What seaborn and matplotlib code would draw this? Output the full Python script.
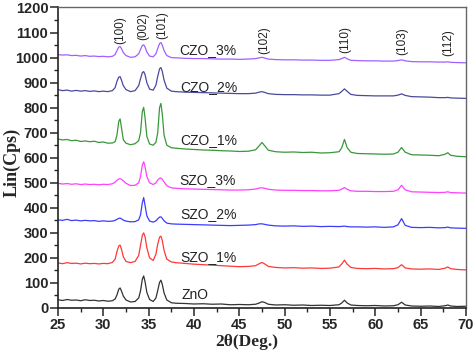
import matplotlib
matplotlib.use("Agg")
import matplotlib.pyplot as plt
import seaborn as sns
import pandas as pd
from matplotlib.ticker import MultipleLocator

two_theta = [25, 25.5, 26, 26.5, 27, 27.5, 28, 28.5, 29, 29.5, 30, 30.5, 31, 31.3, 31.5, 31.7, 31.85, 32.0,
             32.2, 32.5, 33, 33.5, 33.9, 34.1, 34.3, 34.45, 34.6, 34.8, 35.1, 35.5, 35.8, 36.0, 36.2, 36.35,
             36.5, 36.7, 37.0, 37.5, 38, 39, 40, 41, 42, 43, 44, 45, 46, 46.8, 47.2, 47.5, 47.8, 48.2, 49,
             50, 51, 52, 53, 54, 55, 56, 56.3, 56.6, 56.9, 57.3, 58, 59, 60, 61, 62, 62.5, 62.9, 63.3, 64,
             65, 66, 67, 67.7, 68.0, 68.3, 69, 70]

zno = [33, 30, 34, 31, 32, 29, 33, 30, 31, 28, 30, 27, 29, 36, 52, 75, 80, 68,
       48, 32, 24, 26, 40, 68, 115, 128, 105, 62, 34, 26, 40, 70, 102, 111,
       95, 60, 32, 21, 19, 18, 16, 17, 15, 16, 13, 14, 13, 15, 20, 25, 22, 15, 12,
       13, 11, 12, 10, 11, 10, 13, 20, 31, 20, 12, 10, 9, 10, 8, 9, 13, 23, 12, 8,
       7, 8, 6, 9, 12, 8, 6, 7]

szo_1 = [180, 177, 181, 178, 179, 176, 179, 177, 178, 176, 178, 177, 182, 195, 225, 248, 251, 235,
         205, 186, 181, 186, 210, 250, 290, 300, 285, 240, 200, 190, 215, 255, 283, 287,
         270, 230, 195, 184, 181, 178, 175, 173, 171, 169, 167, 165, 166, 169, 177, 182, 176, 166, 162,
         160, 161, 159, 160, 158, 159, 164, 176, 191, 175, 162, 158, 157, 158, 156, 157, 161, 173, 160, 156,
         155, 156, 154, 159, 164, 157, 154, 152]

szo_2 = [352, 350, 354, 349, 351, 348, 350, 348, 349, 346, 348, 346, 347, 350, 354, 358, 359, 356,
         351, 347, 344, 345, 352, 372, 420, 441, 410, 368, 347, 343, 348, 356, 363, 364,
         358, 348, 339, 336, 335, 334, 333, 332, 331, 330, 329, 330, 331, 333, 336, 336, 334, 331, 328,
         327, 328, 326, 327, 325, 326, 325, 326, 327, 325, 324, 324, 323, 324, 322, 324, 332, 357, 330, 322,
         321, 322, 320, 321, 323, 320, 319, 318]

szo_3 = [498, 495, 497, 494, 496, 493, 495, 493, 494, 492, 494, 493, 496, 503, 510, 515, 516, 514,
         508, 498, 489, 490, 500, 525, 570, 584, 565, 525, 500, 493, 500, 511, 518, 519,
         514, 503, 488, 480, 478, 476, 475, 474, 473, 472, 471, 471, 472, 475, 479, 480, 478, 474, 471,
         470, 470, 469, 469, 468, 468, 470, 475, 481, 474, 468, 466, 466, 465, 465, 466, 472, 490, 472, 464,
         463, 462, 461, 462, 464, 461, 460, 459]

czo_1 = [675, 671, 673, 668, 670, 665, 667, 664, 666, 661, 663, 658, 659, 664, 690, 745, 755, 720,
         672, 658, 652, 656, 668, 700, 785, 801, 760, 685, 655, 650, 662, 700, 800, 817,
         775, 690, 650, 640, 638, 635, 633, 631, 630, 628, 627, 625, 626, 632, 648, 661, 648, 630, 624,
         622, 623, 621, 622, 619, 620, 624, 640, 673, 640, 622, 617, 616, 615, 614, 615, 622, 641, 622, 612,
         611, 610, 608, 614, 620, 610, 606, 604]

czo_2 = [872, 868, 870, 866, 869, 866, 868, 865, 867, 864, 866, 864, 868, 880, 905, 922, 924, 910,
         888, 872, 864, 868, 888, 915, 940, 944, 932, 900, 874, 870, 890, 925, 955, 960,
         945, 910, 878, 866, 864, 862, 861, 860, 859, 858, 857, 856, 856, 858, 862, 864, 861, 856, 853,
         852, 852, 851, 851, 850, 850, 856, 865, 875, 865, 853, 849, 848, 847, 847, 847, 850, 855, 849, 844,
         843, 842, 840, 840, 841, 839, 838, 837]

czo_3 = [1012, 1010, 1011, 1008, 1009, 1006, 1008, 1005, 1006, 1004, 1005, 1003, 1005, 1012, 1028, 1042, 1044, 1036,
         1020, 1008, 1001, 1003, 1015, 1032, 1048, 1051, 1042, 1022, 1006, 1003, 1015, 1036, 1056, 1060,
         1050, 1028, 1008, 1000, 999, 997, 996, 996, 995, 994, 994, 993, 994, 996, 999, 1001, 998, 994, 992,
         991, 991, 990, 990, 989, 989, 992, 996, 1001, 995, 989, 988, 987, 987, 986, 986, 988, 991, 987, 984,
         983, 983, 982, 982, 983, 981, 980, 979]

series_names = ["ZnO", "SZO_1%", "SZO_2%", "SZO_3%", "CZO_1%", "CZO_2%", "CZO_3%"]
series_values = [zno, szo_1, szo_2, szo_3, czo_1, czo_2, czo_3]
series_colors = ["#333333", "#ff3838", "#3c3cff", "#ff40ff", "#3a973a", "#4a4a9a", "#a060ff"]
label_x = [38.6, 38.5, 38.5, 38.4, 38.5, 38.5, 38.4]
label_y = [51, 202, 375, 511, 670, 883, 1030]

peak_labels = ["(100)", "(002)", "(101)", "(102)", "(110)", "(103)", "(112)"]
peak_x = [31.9, 34.4, 36.45, 47.8, 56.7, 63.0, 68.0]
peak_y = [1111, 1127, 1131, 1071, 1071, 1067, 1061]

sns.set_style("ticks")
plt.rcParams['font.family'] = ['Liberation Sans', 'DejaVu Sans']

fig = plt.figure(figsize=(4.74, 3.55), dpi=100)
ax = fig.add_axes([0.1224, 0.1324, 0.8606, 0.8465])

for name, vals, col in zip(series_names, series_values, series_colors):
    df = pd.DataFrame({"2theta": two_theta, "cps": vals})
    sns.lineplot(data=df, x="2theta", y="cps", color=col, linewidth=0.9, ax=ax)

for name, lx, ly in zip(series_names, label_x, label_y):
    ax.text(lx, ly, name, fontsize=10, ha="left", va="center", color="#222222")

for lab, px, py in zip(peak_labels, peak_x, peak_y):
    ax.text(px, py, lab, fontsize=8.5, rotation=90, ha="center", va="center", color="#222222")

ax.set_xlim(25, 70)
ax.set_ylim(0, 1200)
ax.xaxis.set_major_locator(MultipleLocator(5))
ax.xaxis.set_minor_locator(MultipleLocator(2.5))
ax.yaxis.set_major_locator(MultipleLocator(100))
ax.yaxis.set_minor_locator(MultipleLocator(50))
ax.tick_params(which="major", direction="out", length=5.5, width=1.1, labelsize=10.5, pad=1.5)
ax.tick_params(which="minor", direction="out", length=2.8, width=1.0)
for lbl in ax.get_xticklabels() + ax.get_yticklabels():
    lbl.set_fontweight("bold")

for s in ["left", "bottom"]:
    ax.spines[s].set_linewidth(1.2)
    ax.spines[s].set_color("#222222")
for s in ["top", "right"]:
    ax.spines[s].set_visible(True)
    ax.spines[s].set_linewidth(1.0)
    ax.spines[s].set_color("#666666")

ax.set_xlabel("2θ(Deg.)", fontsize=12.5, fontweight="bold", family=["Liberation Serif", "DejaVu Serif"])
ax.set_ylabel("Lin(Cps)", fontsize=13, fontweight="bold", family=["Liberation Serif", "DejaVu Serif"])
ax.xaxis.set_label_coords(0.463, -0.088)
ax.yaxis.set_label_coords(-0.114, 0.486)
ax.xaxis.label.set_verticalalignment("top")
ax.yaxis.label.set_verticalalignment("center")

fig.savefig("out.png", dpi=100)
